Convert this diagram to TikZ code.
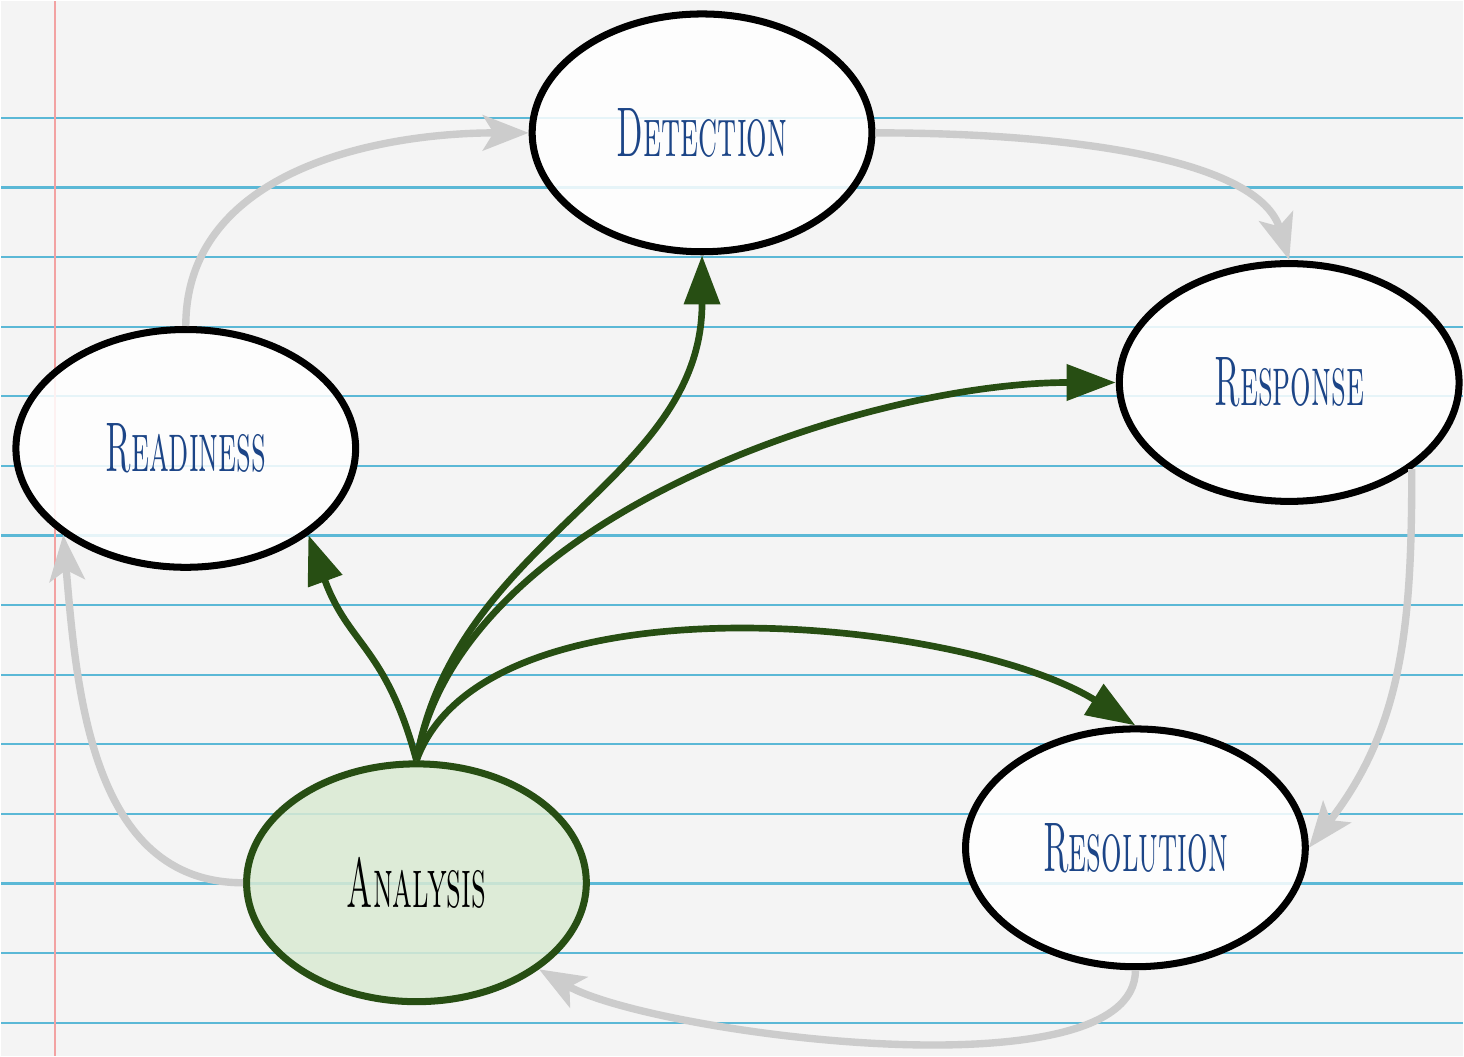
\documentclass[tikz,border=0pt]{standalone}
\usepackage{graphicx}
\usepackage[HTML]{xcolor}
\usepackage{tikz}
\usetikzlibrary{positioning, arrows.meta, shapes.geometric}

\definecolor{paper}{HTML}{F4F4F4}
\definecolor{ruleblue}{HTML}{5BB8D6}
\definecolor{marginred}{HTML}{F2A2A2}
\definecolor{ashgray}{HTML}{CCCCCC}
\definecolor{leaf}{HTML}{274E13}
\definecolor{sage}{HTML}{D9EAD3}
\definecolor{inkblue}{HTML}{1C4587}

\newcommand{\stagename}[1]{\scalebox{0.46}[1]{\fontsize{20}{24}\selectfont\textsc{#1}}}

\begin{document}
\begin{tikzpicture}[x=0.01cm,y=0.01cm,
  stage/.style={ellipse,draw=black,line width=2pt,fill=white,fill opacity=0.85,text opacity=1,
    text=inkblue,minimum width=3.4cm,minimum height=2.38cm,inner sep=0pt},
  focus/.style={stage,draw=leaf,fill=sage,text=black},
  flow/.style={-{Stealth[length=13pt,width=10pt,inset=3pt]},line width=2.1pt,draw=ashgray},
  push/.style={-{Triangle[length=14pt,width=10pt]},line width=1.9pt,draw=leaf}]
% notebook paper
\fill[paper] (0,0) rectangle (1464,-1056);
\foreach \k in {0,...,13}{
\draw[ruleblue,line width=0.6pt] (0,{-117-69.7*\k}) -- (1464,{-117-69.7*\k});
}
\draw[marginred,line width=0.6pt] (54,0) -- (54,-1056);
\useasboundingbox (0,0) rectangle (1464,-1056);

% stages
\node[stage] (dt) at (702,-132) {\stagename{Detection}};
\node[stage] (rd) at (185,-448) {\stagename{Readiness}};
\node[stage] (rs) at (1290,-382) {\stagename{Response}};
\node[stage] (rl) at (1136,-848) {\stagename{Resolution}};
\node[focus] (an) at (416,-883) {\stagename{Analysis}};

% cycle
\draw[flow] (rd.north) to[out=90,in=180] (dt.west);
\draw[flow] (dt.east) .. controls +(200,0) and +(-30,100) .. (rs.north);
\draw[flow] (rs.south east) to[out=-90,in=52] (rl.east);
\draw[flow] (rl.south) to[out=-90,in=-30,looseness=0.55] (an.south east);
\draw[flow] (an.west) to[out=180,in=-85] (rd.south west);

% analysis feeds every stage
\draw[push] (an.north) to[out=105,in=-70,looseness=1.2] (rd.south east);
\draw[push] (an.north) to[out=80,in=-90] (dt.south);
\draw[push] (an.north) to[out=80,in=180,looseness=0.8] (rs.west);
\draw[push] (an.north) to[out=70,in=148,looseness=0.72] (rl.north);
\end{tikzpicture}
\end{document}
